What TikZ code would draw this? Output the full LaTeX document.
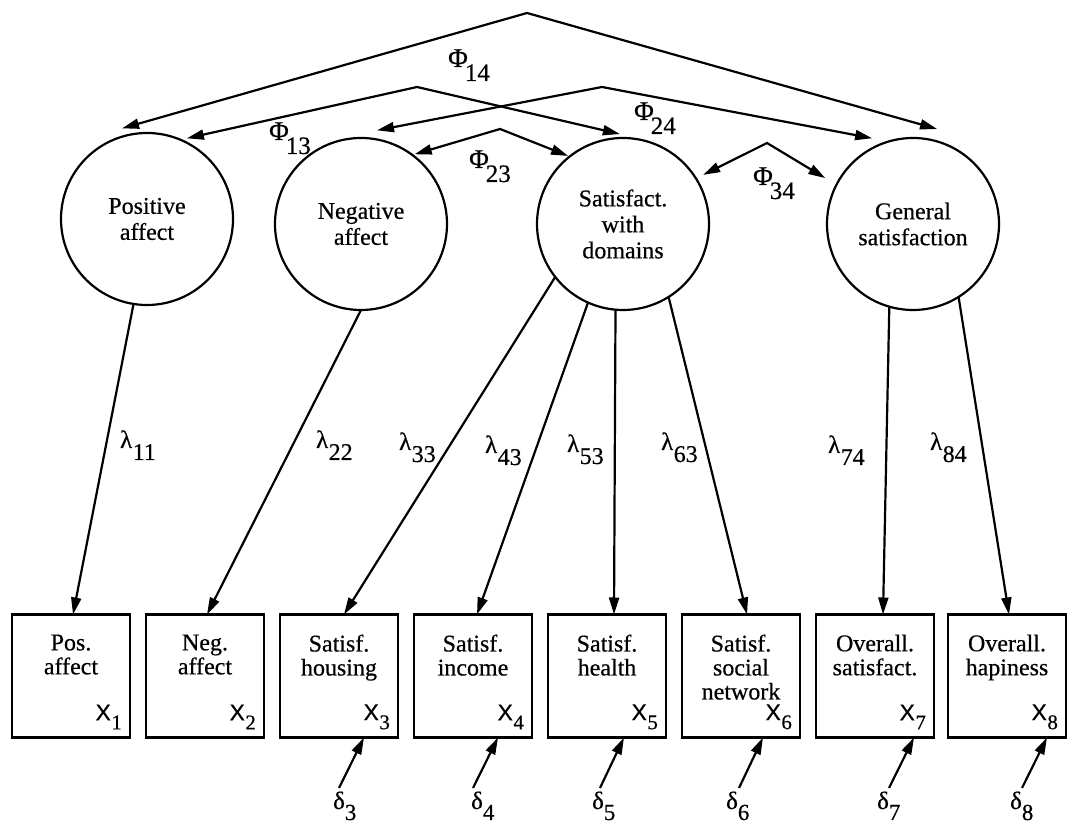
\documentclass[tikz,border=0pt]{standalone}
\usepackage{fontspec}
\setmainfont{Liberation Serif}[BoldFont=Liberation Serif,BoldFeatures={FakeBold=0.5}]
\setsansfont{Liberation Sans}[BoldFont=Liberation Sans,BoldFeatures={FakeBold=0.5}]
\usetikzlibrary{arrows.meta,calc}
\newcommand{\Phisub}[1]{{\fontsize{27}{27}\selectfont Φ}\kern-3pt\raisebox{-14pt}{\fontsize{25}{25}\selectfont #1}}
\newcommand{\lamsub}[1]{{\fontsize{25}{25}\selectfont λ}\kern0.5pt\raisebox{-12pt}{\fontsize{24}{24}\selectfont #1}}
\newcommand{\delsub}[1]{{\fontsize{25}{25}\selectfont δ}\raisebox{-11pt}{\fontsize{23}{23}\selectfont #1}}
\newcommand{\Xsub}[1]{{\sffamily\fontsize{23}{23}\selectfont X}\kern0.5pt\raisebox{-9pt}{\fontsize{21}{21}\selectfont #1}}
\begin{document}
\begin{tikzpicture}[x=1pt,y=1pt,line width=2.2pt,
  every node/.style={font=\bfseries},
  >={Triangle[length=17pt,width=10pt]},
  latent/.style={circle,draw,minimum size=172pt,inner sep=0pt,outer sep=0pt,align=center,font=\bfseries\fontsize{24}{26}\selectfont},
  obs/.style={rectangle,draw,minimum width=118pt,minimum height=123pt,inner sep=0pt,outer sep=0pt},
  obstext/.style={anchor=north,inner sep=0pt,align=center,font=\bfseries\fontsize{24}{24}\selectfont},
  xlab/.style={anchor=south east,inner sep=0pt},
  lbl/.style={anchor=base west,inner sep=0pt}]
\useasboundingbox (0,0) rectangle (1067,826);
% latent variables
\node[latent] (c1) at (147,607) {Positive\\affect};
\node[latent] (c2) at (361,602) {Negative\\affect};
\node[latent] (c3) at (623,602) {Satisfact.\\with\\domains};
\node[latent] (c4) at (913,602) {General\\satisfaction};
% observed variables
\node[obs] (b1) at (71,150) {};
\node[obs] (b2) at (205,150) {};
\node[obs] (b3) at (339,150) {};
\node[obs] (b4) at (473,150) {};
\node[obs] (b5) at (607,150) {};
\node[obs] (b6) at (741,150) {};
\node[obs] (b7) at (875,150) {};
\node[obs] (b8) at (1007,150) {};
\node[obstext] (t1) at ($(b1.north)+(0,-19)$) {Pos.\\affect};
\node[obstext] (t2) at ($(b2.north)+(0,-19)$) {Neg.\\affect};
\node[obstext] (t3) at ($(b3.north)+(0,-19)$) {Satisf.\\housing};
\node[obstext] (t4) at ($(b4.north)+(0,-19)$) {Satisf.\\income};
\node[obstext] (t5) at ($(b5.north)+(0,-19)$) {Satisf.\\health};
\node[obstext] (t6) at ($(b6.north)+(0,-19)$) {Satisf.\\social\\network};
\node[obstext] (t7) at ($(b7.north)+(0,-19)$) {Overall.\\satisfact.};
\node[obstext] (t8) at ($(b8.north)+(0,-19)$) {Overall.\\hapiness};
\node[xlab] (x1) at ($(b1.south east)+(-7,7)$) {\Xsub{1}};
\node[xlab] (x2) at ($(b2.south east)+(-7,7)$) {\Xsub{2}};
\node[xlab] (x3) at ($(b3.south east)+(-7,7)$) {\Xsub{3}};
\node[xlab] (x4) at ($(b4.south east)+(-7,7)$) {\Xsub{4}};
\node[xlab] (x5) at ($(b5.south east)+(-7,7)$) {\Xsub{5}};
\node[xlab] (x6) at ($(b6.south east)+(-7,7)$) {\Xsub{6}};
\node[xlab] (x7) at ($(b7.south east)+(-7,7)$) {\Xsub{7}};
\node[xlab] (x8) at ($(b8.south east)+(-7,7)$) {\Xsub{8}};
% loadings
\draw[->] (c1.-99) -- ($(b1.north)+(2,0)$);
\draw[->] (c2.-90) -- ($(b2.north)+(2,0)$);
\draw[->] (c3.-142) -- ($(b3.north)+(5,0)$);
\draw[->] (c3.-114) -- ($(b4.north)+(4,0)$);
\draw[->] (c3.-95) -- ($(b5.north)+(7,0)$);
\draw[->] (c3.-58) -- ($(b6.north)+(6,0)$);
\draw[->] (c4.-106) -- ($(b7.north)+(8,0)$);
\draw[->] (c4.-58) -- ($(b8.north)+(2,0)$);
\node[lbl] (l11) at (119,378) {\lamsub{11}};
\node[lbl] (l22) at (315,378) {\lamsub{22}};
\node[lbl] (l33) at (398,376) {\lamsub{33}};
\node[lbl] (l43) at (484,373) {\lamsub{43}};
\node[lbl] (l53) at (566,374) {\lamsub{53}};
\node[lbl] (l63) at (660,376) {\lamsub{63}};
\node[lbl] (l74) at (827,373) {\lamsub{74}};
\node[lbl] (l84) at (929,376) {\lamsub{84}};
% covariances
\coordinate (p14) at (527,813);
\coordinate (p13) at (417,739);
\coordinate (p24) at (602,739);
\coordinate (p23) at (500,697);
\coordinate (p34) at (767,683);
\draw[<->] ($(c1)+(105.4:94)$) -- (p14) -- ($(c4)+(75.8:98)$);
\draw[<->] ($(c1)+(63.7:90)$) -- (p13) -- ($(c3)+(92:90)$);
\draw[<->] ($(c2)+(80.3:95)$) -- (p24) -- ($(c4)+(115.5:95)$);
\draw[<->] ($(c2)+(52.4:88)$) -- (p23) -- ($(c3)+(128.9:87.5)$);
\draw[<->] ($(c3)+(31.5:94)$) -- (p34) -- ($(c4)+(152.4:99)$);
\node[lbl] (f14) at (447,759) {\Phisub{14}};
\node[lbl] (f13) at (268,686) {\Phisub{13}};
\node[lbl] (f23) at (468,658) {\Phisub{23}};
\node[lbl] (f24) at (633,706) {\Phisub{24}};
\node[lbl] (f34) at (752,641) {\Phisub{34}};
% errors
\node[lbl] (d3) at (332,17) {\delsub{3}};
\node[lbl] (d4) at (470,17) {\delsub{4}};
\node[lbl] (d5) at (591,17) {\delsub{5}};
\node[lbl] (d6) at (725,17) {\delsub{6}};
\node[lbl] (d7) at (876,17) {\delsub{7}};
\node[lbl] (d8) at (1009,17) {\delsub{8}};
\coordinate (e3) at (339,38);
\coordinate (e4) at (473,38);
\coordinate (e5) at (600,38);
\coordinate (e6) at (739,38);
\coordinate (e7) at (889,38);
\coordinate (e8) at (1022,38);
\draw[->] (e3) -- ($(b3.south)+(25,0)$);
\draw[->] (e4) -- ($(b4.south)+(25,0)$);
\draw[->] (e5) -- ($(b5.south)+(17,0)$);
\draw[->] (e6) -- ($(b6.south)+(22,0)$);
\draw[->] (e7) -- ($(b7.south)+(39,0)$);
\draw[->] (e8) -- ($(b8.south)+(40,0)$);
\end{tikzpicture}
\end{document}
